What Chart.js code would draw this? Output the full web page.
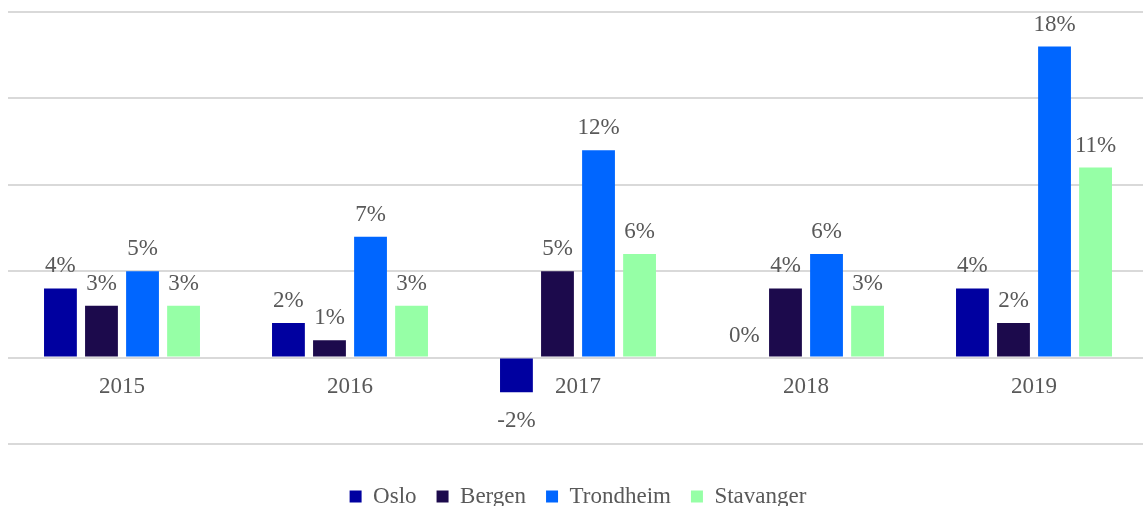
<!DOCTYPE html>
<html>
<head>
<meta charset="utf-8">
<script src="https://cdn.jsdelivr.net/npm/chart.js@4"></script>
<style>
  html, body { margin: 0; padding: 0; background: #fff; overflow: hidden; }
  #wrap { width: 1148px; height: 506px; }
</style>
</head>
<body>
<div id="wrap"><canvas id="chart"></canvas></div>
<script>
const years = ['2015', '2016', '2017', '2018', '2019'];
const oslo = [4, 2, -2, 0, 4];
const bergen = [3, 1, 5, 4, 2];
const trondheim = [5, 7, 12, 6, 18];
const stavanger = [3, 3, 6, 3, 11];

const textColor = '#595959';
const serif = '"Liberation Serif", "Times New Roman", serif';

// labels over / under each bar
const barLabels = {
  id: 'barLabels',
  afterDatasetsDraw(chart) {
    const ctx = chart.ctx;
    ctx.save();
    ctx.font = '23px ' + serif;
    ctx.fillStyle = textColor;
    ctx.textAlign = 'center';
    ctx.textBaseline = 'alphabetic';
    chart.data.datasets.forEach((ds, i) => {
      chart.getDatasetMeta(i).data.forEach((bar, j) => {
        const v = ds.data[j];
        const y = v < 0 ? bar.y + 35 : bar.y - 16;
        ctx.fillText(v + '%', bar.x, y);
      });
    });
    ctx.restore();
  }
};

new Chart(document.getElementById('chart'), {
  type: 'bar',
  data: {
    labels: years,
    datasets: [
      { label: 'Oslo', data: oslo, backgroundColor: '#0000a0' },
      { label: 'Bergen', data: bergen, backgroundColor: '#1c0a4c' },
      { label: 'Trondheim', data: trondheim, backgroundColor: '#0066ff' },
      { label: 'Stavanger', data: stavanger, backgroundColor: '#96ffa6' }
    ]
  },
  options: {
    responsive: true,
    maintainAspectRatio: false,
    animation: false,
    datasets: { bar: { categoryPercentage: 0.72, barPercentage: 0.8, borderWidth: 0 } },
    layout: { padding: { left: 8, right: 0, top: 12, bottom: -12 } },
    scales: {
      x: {
        position: { y: 0 },
        grid: { display: false, drawTicks: false },
        border: { display: false },
        ticks: { color: textColor, font: { family: serif, size: 23 }, padding: 16 }
      },
      y: {
        min: -5,
        max: 20,
        ticks: { display: false, stepSize: 5 },
        grid: { color: '#d9d9d9', lineWidth: 2, drawTicks: false },
        border: { display: false }
      }
    },
    plugins: {
      legend: {
        position: 'bottom',
        title: { display: true, text: '', font: { size: 10 }, padding: { top: 9, bottom: 0 } },
        labels: {
          boxWidth: 12,
          boxHeight: 12,
          padding: 20,
          color: textColor,
          font: { family: serif, size: 23 }
        }
      },
      tooltip: { enabled: false }
    }
  },
  plugins: [barLabels]
});
</script>
</body>
</html>
